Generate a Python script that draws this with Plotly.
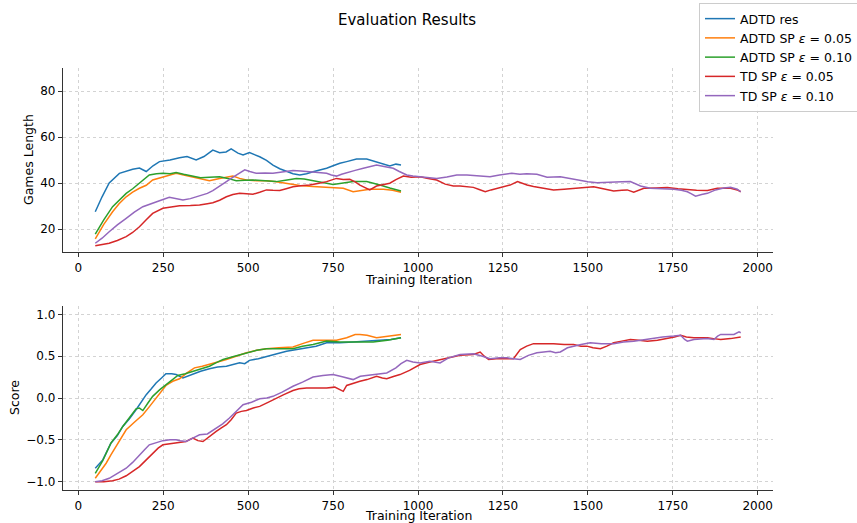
import plotly.graph_objects as go

# ---------------- data ----------------
series_names = ["ADTD res", "ADTD SP <i>ε</i> = 0.05", "ADTD SP <i>ε</i> = 0.10",
                "TD SP <i>ε</i> = 0.05", "TD SP <i>ε</i> = 0.10"]
series_colors = ["#1f77b4", "#ff7f0e", "#2ca02c", "#d62728", "#9467bd"]

# Games Length
adtd_res_len_x = [50, 70, 91, 121, 160, 180, 200, 220, 239, 270, 298, 320, 347, 370, 396, 416, 435, 450, 470, 485,
                  504, 534, 554, 573, 593, 613, 632, 652, 672, 691, 711, 731, 750, 770, 790, 819, 849, 868, 888, 917,
                  935, 950]
adtd_res_len_y = [27.5, 34, 40, 44.2, 46, 46.5, 45, 47.5, 49.3, 50, 51, 51.5, 50, 51.5, 54.3, 53.2, 53.5, 54.8, 53, 52.2,
                  53.2, 51.4, 49.8, 47.8, 46.2, 44.9, 44, 43.5, 44, 44.9, 45.5, 46.4, 47.5, 48.6, 49.3, 50.4, 50.4, 49.5,
                  48.6, 47.4, 48.2, 47.8]

adtd_sp05_len_x = [50, 75, 101, 120, 141, 160, 180, 200, 219, 240, 259, 288, 310, 337, 360, 386, 416, 436, 455, 475,
                   495, 525, 554, 583, 613, 632, 652, 690, 731, 760, 780, 809, 830, 858, 898, 925, 950]
adtd_sp05_len_y = [15.7, 22, 27.5, 31, 34, 36, 37.7, 39, 41.3, 42.2, 43, 44.2, 43.5, 42.5, 41.8, 41, 42, 42.5, 43, 42,
                   41.3, 41, 41, 40.5, 39.9, 39.4, 38.9, 38.5, 38, 37.8, 37.7, 36.2, 36.8, 37.3, 37.3, 36.8, 36]

adtd_sp10_len_x = [50, 75, 101, 120, 141, 160, 180, 209, 230, 249, 270, 288, 310, 337, 360, 386, 416, 440, 465, 490,
                   514, 550, 583, 610, 642, 665, 691, 720, 750, 780, 809, 849, 868, 888, 917, 950]
adtd_sp10_len_y = [17.8, 24, 29.7, 32.5, 35.5, 37.5, 39.9, 43.5, 44, 44.2, 44, 44.6, 43.8, 43, 42.3, 42.5, 42.7, 42, 41,
                   41.2, 41.3, 41, 40.6, 41.2, 42, 41.7, 41, 40.2, 39.4, 40, 40.6, 40.6, 40, 39.1, 37.8, 36.5]

td_sp05_len_x = [50, 70, 91, 115, 141, 160, 180, 200, 219, 249, 270, 298, 330, 357, 380, 396, 416, 436, 455, 475, 495,
                 514, 534, 554, 573, 593, 612, 632, 655, 681, 705, 731, 760, 780, 799, 815, 829, 845, 858, 878, 900,
                 917, 935, 957, 980, 1006, 1030, 1055, 1080, 1104, 1124, 1144, 1163, 1180, 1198, 1215, 1232, 1250,
                 1271, 1293, 1310, 1321, 1340, 1360, 1380, 1399, 1430, 1458, 1490, 1517, 1545, 1576, 1600, 1616, 1635,
                 1650, 1665, 1700, 1734, 1765, 1793, 1820, 1852, 1881, 1920, 1940, 1950]
td_sp05_len_y = [12.7, 13.2, 13.8, 15, 16.7, 18.5, 21, 24, 26.8, 29, 29.5, 30.1, 30.2, 30.4, 31, 31.4, 32.5, 34, 35,
                 35.5, 35.3, 35.1, 36, 37, 36.8, 36.7, 37.5, 38.4, 38.8, 39.1, 39.8, 40.6, 42, 41.5, 41.6, 40.5, 39.1,
                 37.8, 37, 38.7, 39.2, 39.9, 41.5, 43, 42.5, 42.7, 42, 41.3, 39.5, 38.7, 38.7, 38.4, 38.1, 37.2, 36.2,
                 37, 37.7, 38.5, 39.1, 40.6, 39.5, 39.1, 38.5, 38, 37.5, 37, 37.3, 37.7, 38, 38.4, 37.5, 36.5, 36.8,
                 37, 36, 37, 37.7, 37.8, 38, 37.5, 37, 36.8, 36.7, 37.7, 37.7, 37, 36.2]

td_sp10_len_x = [50, 70, 91, 115, 141, 165, 190, 215, 239, 268, 288, 308, 330, 357, 380, 396, 416, 436, 450, 465, 490,
                 505, 524, 550, 573, 600, 632, 655, 681, 705, 731, 745, 760, 775, 790, 815, 839, 860, 878, 900, 927,
                 945, 967, 985, 1006, 1030, 1055, 1085, 1114, 1144, 1180, 1212, 1240, 1276, 1300, 1320, 1350, 1380,
                 1419, 1450, 1478, 1500, 1527, 1550, 1576, 1600, 1625, 1640, 1655, 1684, 1720, 1753, 1775, 1793, 1805,
                 1817, 1835, 1852, 1876, 1900, 1920, 1940, 1950]
td_sp10_len_y = [13.8, 16, 18.8, 21.8, 24.6, 27.3, 29.7, 31.2, 32.3, 33.8, 33.2, 32.6, 33.2, 34.3, 35.5, 36.7, 38.5,
                 40.6, 42, 43.5, 45.7, 45, 44.2, 44.3, 44.2, 44.8, 45.4, 45.2, 44.9, 44.6, 44.2, 43.5, 43, 43.8, 44.5,
                 45.5, 46.4, 47.2, 47.8, 47.2, 46.4, 45, 43.5, 43, 42.7, 42.3, 42, 42.6, 43.5, 43.5, 43.2, 42.7, 43.5,
                 44.2, 43.8, 44, 43.8, 42.5, 42.7, 41.8, 41, 40.5, 40.1, 40.3, 40.6, 40.5, 40.6, 39.8, 38.7, 37.7, 37.5,
                 37.3, 36.8, 36.2, 35.3, 34.3, 35, 35.5, 37, 37.8, 38.1, 37.3, 36.2]

# Score
adtd_res_score_x = [50, 72, 96, 115, 131, 150, 170, 185, 200, 215, 229, 245, 258, 275, 288, 308, 337, 360, 386, 410,
                    436, 455, 475, 490, 504, 530, 554, 585, 613, 640, 672, 700, 731, 770, 809, 850, 888, 920, 950]
adtd_res_score_y = [-0.84, -0.74, -0.54, -0.45, -0.34, -0.25, -0.14, -0.05, 0.04, 0.11, 0.18, 0.24, 0.29, 0.29, 0.28,
                    0.24, 0.29, 0.32, 0.35, 0.37, 0.38, 0.40, 0.42, 0.41, 0.45, 0.47, 0.5, 0.53, 0.56, 0.58, 0.6, 0.62,
                    0.66, 0.66, 0.67, 0.68, 0.69, 0.7, 0.72]

adtd_sp05_score_x = [50, 65, 82, 96, 111, 126, 141, 165, 190, 210, 229, 245, 258, 278, 298, 320, 342, 365, 386, 410,
                     436, 465, 495, 525, 554, 590, 632, 660, 691, 730, 760, 790, 815, 829, 850, 878, 910, 950]
adtd_sp05_score_y = [-0.96, -0.88, -0.78, -0.68, -0.58, -0.48, -0.38, -0.29, -0.2, -0.1, 0.0, 0.08, 0.15, 0.2, 0.23,
                     0.3, 0.36, 0.38, 0.4, 0.43, 0.46, 0.5, 0.54, 0.57, 0.59, 0.6, 0.61, 0.65, 0.69, 0.69, 0.69, 0.72,
                     0.76, 0.76, 0.75, 0.72, 0.74, 0.76]

adtd_sp10_score_x = [50, 72, 96, 115, 131, 150, 170, 180, 190, 205, 219, 240, 258, 275, 293, 315, 337, 360, 386, 405,
                     426, 460, 495, 525, 554, 590, 632, 660, 691, 731, 770, 809, 840, 868, 910, 950]
adtd_sp10_score_y = [-0.9, -0.75, -0.54, -0.44, -0.34, -0.24, -0.13, -0.12, -0.15, -0.06, 0.02, 0.1, 0.16, 0.22, 0.27,
                     0.29, 0.32, 0.35, 0.38, 0.42, 0.46, 0.5, 0.54, 0.57, 0.59, 0.59, 0.59, 0.62, 0.64, 0.68, 0.67,
                     0.67, 0.67, 0.67, 0.69, 0.72]

td_sp05_score_x = [50, 75, 101, 120, 141, 160, 180, 200, 219, 235, 249, 265, 278, 300, 317, 337, 352, 367, 385, 406,
                   420, 436, 450, 465, 480, 495, 515, 534, 560, 583, 605, 632, 650, 672, 700, 731, 755, 780, 790, 810,
                   829, 850, 878, 895, 908, 930, 947, 975, 1006, 1035, 1065, 1090, 1124, 1163, 1183, 1195, 1208, 1230,
                   1260, 1281, 1301, 1320, 1340, 1370, 1399, 1430, 1458, 1480, 1497, 1515, 1537, 1556, 1576, 1600,
                   1625, 1650, 1675, 1705, 1734, 1755, 1773, 1790, 1812, 1832, 1852, 1870, 1891, 1920, 1940, 1950]
td_sp05_score_y = [-1.0, -1.0, -0.99, -0.97, -0.93, -0.88, -0.82, -0.74, -0.66, -0.6, -0.56, -0.55, -0.54, -0.53,
                   -0.52, -0.48, -0.51, -0.52, -0.46, -0.4, -0.36, -0.32, -0.26, -0.18, -0.16, -0.15, -0.12, -0.1,
                   -0.05, 0.0, 0.04, 0.09, 0.11, 0.12, 0.12, 0.12, 0.13, 0.08, 0.15, 0.18, 0.2, 0.22, 0.26, 0.24, 0.23,
                   0.26, 0.28, 0.33, 0.4, 0.43, 0.46, 0.48, 0.51, 0.52, 0.55, 0.5, 0.46, 0.47, 0.47, 0.47, 0.58, 0.62,
                   0.65, 0.65, 0.65, 0.64, 0.64, 0.62, 0.62, 0.6, 0.59, 0.62, 0.66, 0.68, 0.7, 0.69, 0.68, 0.69, 0.71,
                   0.73, 0.75, 0.73, 0.72, 0.72, 0.72, 0.71, 0.7, 0.71, 0.72, 0.73]

td_sp10_score_x = [50, 70, 91, 115, 141, 160, 180, 195, 209, 230, 249, 270, 288, 300, 317, 337, 357, 380, 406, 425,
                   445, 465, 485, 510, 534, 555, 573, 600, 632, 660, 691, 720, 750, 780, 809, 830, 849, 880, 908, 935,
                   950, 967, 985, 1006, 1035, 1065, 1090, 1124, 1163, 1190, 1212, 1240, 1262, 1281, 1301, 1325, 1350,
                   1370, 1389, 1405, 1419, 1440, 1458, 1480, 1507, 1540, 1576, 1605, 1635, 1665, 1694, 1720, 1753,
                   1773, 1785, 1793, 1812, 1832, 1850, 1871, 1882, 1891, 1910, 1930, 1945, 1950]
td_sp10_score_y = [-1.0, -0.99, -0.96, -0.9, -0.84, -0.77, -0.69, -0.62, -0.56, -0.53, -0.51, -0.5, -0.5, -0.51,
                   -0.52, -0.48, -0.44, -0.43, -0.36, -0.31, -0.24, -0.16, -0.08, -0.05, -0.01, 0.0, 0.02, 0.07, 0.14,
                   0.19, 0.25, 0.27, 0.28, 0.25, 0.22, 0.26, 0.27, 0.28, 0.3, 0.36, 0.41, 0.45, 0.43, 0.42, 0.44, 0.42,
                   0.48, 0.52, 0.53, 0.5, 0.47, 0.48, 0.48, 0.47, 0.46, 0.51, 0.54, 0.55, 0.56, 0.54, 0.55, 0.6, 0.62,
                   0.64, 0.66, 0.65, 0.65, 0.67, 0.68, 0.7, 0.72, 0.73, 0.74, 0.75, 0.7, 0.68, 0.7, 0.71, 0.71, 0.7,
                   0.74, 0.76, 0.76, 0.76, 0.79, 0.78]

x_tick_vals = [0, 250, 500, 750, 1000, 1250, 1500, 1750, 2000]
len_tick_vals = [20, 40, 60, 80]
score_tick_vals = [-1.0, -0.5, 0.0, 0.5, 1.0]
score_tick_text = ["\u22121.0", "\u22120.5", "0.0", "0.5", "1.0"]

len_series = [(adtd_res_len_x, adtd_res_len_y), (adtd_sp05_len_x, adtd_sp05_len_y), (adtd_sp10_len_x, adtd_sp10_len_y),
              (td_sp05_len_x, td_sp05_len_y), (td_sp10_len_x, td_sp10_len_y)]
score_series = [(adtd_res_score_x, adtd_res_score_y), (adtd_sp05_score_x, adtd_sp05_score_y),
                (adtd_sp10_score_x, adtd_sp10_score_y), (td_sp05_score_x, td_sp05_score_y),
                (td_sp10_score_x, td_sp10_score_y)]

# ---------------- figure ----------------
FONT = "DejaVu Sans"
W, H = 857, 523
ML, MR, MT, MB = 63, 84, 68, 33
plot_h = H - MT - MB

fig = go.Figure()
for i, (name, col) in enumerate(zip(series_names, series_colors)):
    xs, ys = len_series[i]
    fig.add_trace(go.Scatter(x=xs, y=ys, mode="lines", name=name, legendgroup=name,
                             line=dict(color=col, width=1.5), xaxis="x", yaxis="y"))
for i, (name, col) in enumerate(zip(series_names, series_colors)):
    xs, ys = score_series[i]
    fig.add_trace(go.Scatter(x=xs, y=ys, mode="lines", name=name, legendgroup=name, showlegend=False,
                             line=dict(color=col, width=1.5), xaxis="x2", yaxis="y2"))

top_dom = [(H - MB - 252) / plot_h, 1.0]
bot_dom = [0.0, (H - MB - 306) / plot_h]

common_x = dict(range=[-45, 2045], tickvals=x_tick_vals, showline=True, linecolor="#333333", linewidth=1.3,
                ticks="outside", ticklen=4, tickcolor="#333333", showgrid=True, gridcolor="#d3d3d3",
                griddash="3px,3px", gridwidth=0.8, zeroline=False, tickfont=dict(family=FONT, size=12, color="black"))
common_y = dict(showline=True, linecolor="#333333", linewidth=1.3, ticks="outside", ticklen=4,
                tickcolor="#333333", showgrid=True, gridcolor="#d3d3d3", griddash="3px,3px", gridwidth=0.8,
                zeroline=False, tickfont=dict(family=FONT, size=12, color="black"))

fig.update_layout(
    width=W, height=H,
    margin=dict(l=ML, r=MR, t=MT, b=MB, autoexpand=False),
    paper_bgcolor="white", plot_bgcolor="white",
    font=dict(family=FONT, size=12, color="black"),
    title=dict(text="Evaluation Results", x=(407 - ML) / (W - ML - MR), xref="paper", xanchor="center",
               y=1 - 20 / H, yref="container", yanchor="middle", font=dict(family=FONT, size=15, color="black")),
    xaxis=dict(domain=[0, 1], anchor="y", **common_x),
    yaxis=dict(domain=top_dom, anchor="x", range=[10, 90], tickvals=len_tick_vals, **common_y),
    xaxis2=dict(domain=[0, 1], anchor="y2", **common_x),
    yaxis2=dict(domain=bot_dom, anchor="x2", range=[-1.1, 1.1], tickvals=score_tick_vals,
                ticktext=score_tick_text, **common_y),
    legend=dict(x=(699 - ML) / (W - ML - MR), y=(H - MB - 3) / plot_h, xanchor="left", yanchor="top",
                bgcolor="rgba(255,255,255,0.85)", bordercolor="#cccccc", borderwidth=1,
                font=dict(family=FONT, size=12.5, color="black"), tracegroupgap=0, itemwidth=30),
    showlegend=True,
)

annos = [
    dict(text="Training Iteration", x=0.5, xref="paper", y=(H - MB - 279) / plot_h, yref="paper",
         xanchor="center", yanchor="middle", showarrow=False, font=dict(family=FONT, size=12.5)),
    dict(text="Training Iteration", x=0.5, xref="paper", y=(H - MB - 515) / plot_h, yref="paper",
         xanchor="center", yanchor="middle", showarrow=False, font=dict(family=FONT, size=12.5)),
    dict(text="Games Length", x=0, xref="paper", xshift=28 - ML, y=(H - MB - 160) / plot_h, yref="paper",
         xanchor="center", yanchor="middle", textangle=-90, showarrow=False, font=dict(family=FONT, size=12.5)),
    dict(text="Score", x=0, xref="paper", xshift=14 - ML, y=(H - MB - 398) / plot_h, yref="paper",
         xanchor="center", yanchor="middle", textangle=-90, showarrow=False, font=dict(family=FONT, size=12.5)),
]
fig.update_layout(annotations=annos)

fig.write_html("out.html", config={"displayModeBar": False},
               post_script="document.body.style.margin='0';document.body.style.overflow='hidden';")
